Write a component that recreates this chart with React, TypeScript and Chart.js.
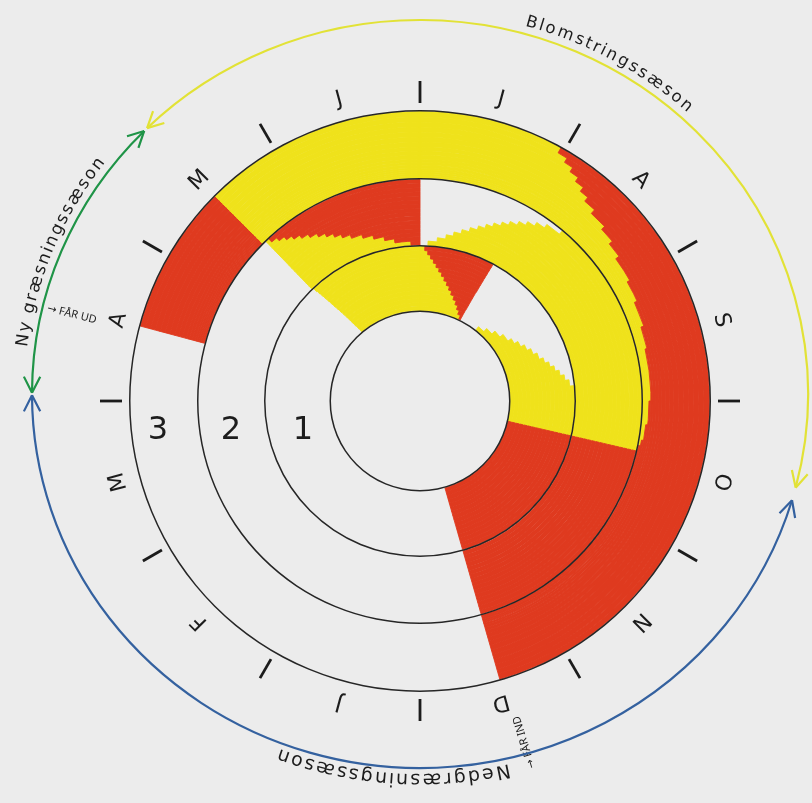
import React, { useEffect, useRef } from 'react';
import { Chart, ArcElement, DoughnutController } from 'chart.js';

Chart.register(ArcElement, DoughnutController);

// ---------- colours ----------
const RED = '#DF3A1F';
const YELLOW = '#EFE21B';
const EMPTY = 'rgba(0,0,0,0)';
const LINE = '#262626';
const INK = '#1c1c1c';

// ---------- calendar (angles in degrees, clockwise from the top = 1 July) ----------
const monthLetters = ['J', 'F', 'M', 'A', 'M', 'J', 'J', 'A', 'S', 'O', 'N', 'D'];
const januaryStartAngle = 180;
const ringNumbers = ['1', '2', '3'];

// ---------- ring 1 (innermost), sub-rings listed inner -> outer ----------
const ring1YellowEnd = [25.3, 23.5, 21.7, 19.9, 18.0, 16.1, 14.4, 12.8, 11.2, 9.7, 8.2, 6.8, 5.5, 4.2, 3.0, 1.8];
const ring1RedWedgeEnd = [26.4, 26.5, 26.6, 26.8, 26.9, 27.0, 27.1, 27.2, 27.4, 27.5, 27.6, 27.7, 27.8, 27.9, 28.0, 28.1];
const ring1LateYellowStart = [38.2, 42.6, 47.0, 51.3, 55.7, 58.7, 61.7, 64.7, 67.7, 70.7, 73.1, 75.3, 77.5, 79.7, 81.9, 84.3];
const ring1RedStart = 103;
const ring1RedEnd = 164;
const ring1YellowStart = [319.9, 319.7, 319.4, 319.2, 319.0, 318.8, 318.6, 318.4, 318.1, 317.9, 317.7, 317.5, 317.3, 317.1, 316.9, 316.6];

// ---------- ring 2, sub-rings inner -> outer ----------
const ring2YellowStart = [2.9, 6.1, 9.0, 11.4, 13.8, 16.2, 18.5, 20.6, 22.6, 24.7, 26.7, 28.9, 31.0, 33.2, 35.7, 39.9];
const ring2RedStart = 103;
const ring2RedEnd = 164;
const ring2EarlyYellowStart = 316;
const ring2EarlyRedStart = [356.7, 351.0, 347.6, 344.1, 340.7, 337.2, 334.6, 332.5, 330.4, 328.3, 326.1, 324.0, 322.1, 320.4, 318.7, 317.0];

// ---------- ring 3 (outermost), sub-rings inner -> outer ----------
const ring3RedStart = [101.5, 100, 96, 90, 77, 71.5, 65.3, 60.1, 54, 50.3, 46.6, 42.4, 39.5, 37.4, 35.3, 33.2, 31.2, 29.1];
const ring3RedEnd = 164;
const ring3EarlyRedStart = 285;
const ring3YellowStart = 315;

// ---------- seasons (arrow arcs) ----------
const seasonNames = ['Blomstringssæson', 'Ny græsningssæson', 'Nedgræsningssæson'];
const seasonStart = [315.3, 270.2, 106.5];
const seasonEnd = [464.5, 314.7, 269.8];
const seasonColors = ['#E2E236', '#1F9447', '#34619F'];
const seasonTextFirst = [16.2, 278, 168];
const seasonTextLast = [41.7, 306.5, 200];

// ---------- events ----------
const eventLabels = ['\u2192 FÅR UD', '\u2192 FÅR IND'];
const eventAngles = [284, 163];

// ---------- geometry (sub-ring thickness in px, inner -> outer) ----------
const ring1Weights = Array(16).fill(4);
const ring2Weights = Array(16).fill(65.5 / 16);
const ring3Weights = [2, 2, 2, 2, 2, 3, 3, 3, 4, 4, 4, 5, 5, 5, 5, 5, 5, 5.5];
const LINE_W = 1.5;
const INNER_R = 89;
const OUTER_R = 291;

const FONT = '"DejaVu Sans", "Noto Sans", sans-serif';
const deg = (d: number) => (d * Math.PI) / 180;

function subRing(cuts: number[], colors: string[], weight: number) {
  const bounds = [0, ...cuts, 360];
  const data = bounds.slice(1).map((b, i) => b - bounds[i]);
  return {
    data,
    backgroundColor: colors,
    borderColor: colors,
    borderWidth: 0.9,
    weight,
    order: 1,
  };
}

function lineRing() {
  return { data: [360], backgroundColor: [LINE], borderColor: [LINE], borderWidth: 0, weight: LINE_W, order: 0 };
}

function buildDatasets() {
  const r1 = ring1Weights.map((w, i) =>
    subRing(
      [ring1YellowEnd[i], ring1RedWedgeEnd[i], ring1LateYellowStart[i], ring1RedStart, ring1RedEnd, ring1YellowStart[i]],
      [YELLOW, RED, EMPTY, YELLOW, RED, EMPTY, YELLOW],
      w
    )
  );
  const r2 = ring2Weights.map((w, i) =>
    subRing(
      [ring2YellowStart[i], ring2RedStart, ring2RedEnd, ring2EarlyYellowStart, ring2EarlyRedStart[i]],
      [EMPTY, YELLOW, RED, EMPTY, YELLOW, RED],
      w
    )
  );
  const r3 = ring3Weights.map((w, i) =>
    subRing(
      [ring3RedStart[i], ring3RedEnd, ring3EarlyRedStart, ring3YellowStart],
      [YELLOW, RED, EMPTY, RED, YELLOW],
      w
    )
  );
  // Chart.js: dataset 0 is the outermost ring
  return [
    lineRing(),
    ...r3.slice().reverse(),
    lineRing(),
    ...r2.slice().reverse(),
    lineRing(),
    ...r1.slice().reverse(),
    lineRing(),
  ];
}

const decorPlugin = {
  id: 'decor',
  afterDatasetsDraw(chart: any) {
    const meta = chart.getDatasetMeta(0);
    const a0 = meta && meta.data && meta.data[0];
    if (!a0) return;
    const cx = a0.x;
    const cy = a0.y;
    const ctx = chart.ctx as CanvasRenderingContext2D;
    ctx.save();

    // month separators
    ctx.strokeStyle = INK;
    ctx.lineWidth = 2.8;
    ctx.lineCap = 'butt';
    for (let k = 0; k < 12; k++) {
      ctx.save();
      ctx.translate(cx, cy);
      ctx.rotate(deg(januaryStartAngle + 30 * k));
      ctx.beginPath();
      ctx.moveTo(0, -298);
      ctx.lineTo(0, -320);
      ctx.stroke();
      ctx.restore();
    }

    // month letters
    ctx.fillStyle = INK;
    ctx.font = '22px ' + FONT;
    ctx.textAlign = 'center';
    ctx.textBaseline = 'middle';
    monthLetters.forEach((m, k) => {
      ctx.save();
      ctx.translate(cx, cy);
      ctx.rotate(deg(januaryStartAngle + 30 * k + 15));
      ctx.fillText(m, 0, -312);
      ctx.restore();
    });

    // ring numbers
    const numberX = [117, 189, 262];
    ctx.font = '32px ' + FONT;
    ringNumbers.forEach((n, i) => {
      ctx.fillText(n, cx - numberX[i], cy + 30);
    });

    // event labels (radial)
    ctx.font = '11px "Noto Sans", "DejaVu Sans", sans-serif';
    ctx.textAlign = 'left';
    eventLabels.forEach((lab, i) => {
      ctx.save();
      ctx.translate(cx, cy);
      ctx.rotate(deg(eventAngles[i]));
      ctx.translate(0, -384);
      ctx.rotate(Math.PI / 2);
      ctx.fillText(lab, 0, 0);
      ctx.restore();
    });

    // season arrows on an ellipse
    const ex = cx;
    const ey = cy - 7;
    const rx = 388;
    const ry = 374;
    const head = (tDeg: number, dir: number) => {
      const t = deg(tDeg);
      const px = ex + rx * Math.sin(t);
      const py = ey - ry * Math.cos(t);
      let dx = rx * Math.cos(t) * dir;
      let dy = ry * Math.sin(t) * dir;
      const len = Math.hypot(dx, dy);
      dx /= len;
      dy /= len;
      const L = 18;
      const h = deg(27);
      for (const s of [-1, 1]) {
        const c = Math.cos(h * s);
        const sn = Math.sin(h * s);
        const bx = -(dx * c - dy * sn);
        const by = -(dx * sn + dy * c);
        ctx.moveTo(px + bx * L, py + by * L);
        ctx.lineTo(px, py);
      }
    };
    ctx.lineWidth = 2.2;
    ctx.lineJoin = 'miter';
    seasonStart.forEach((s, i) => {
      ctx.strokeStyle = seasonColors[i];
      ctx.beginPath();
      ctx.ellipse(ex, ey, rx, ry, 0, deg(s) - Math.PI / 2, deg(seasonEnd[i]) - Math.PI / 2, false);
      ctx.stroke();
      ctx.beginPath();
      head(s, -1);
      head(seasonEnd[i], 1);
      ctx.stroke();
    });

    // season names along the ellipse
    const arcText = (text: string, tFirst: number, tLast: number, off: number, font: string) => {
      ctx.font = font;
      ctx.fillStyle = INK;
      ctx.textAlign = 'center';
      ctx.textBaseline = 'alphabetic';
      const chars = Array.from(text);
      const w = chars.map((c) => ctx.measureText(c).width);
      const cum = [0];
      for (let i = 1; i < chars.length; i++) cum.push(cum[i - 1] + (w[i - 1] + w[i]) / 2 + 1);
      const total = cum[cum.length - 1];
      chars.forEach((c, i) => {
        const t = deg(tFirst + ((tLast - tFirst) * cum[i]) / total);
        const ax = rx + off;
        const ay = ry + off;
        const x = ex + ax * Math.sin(t);
        const y = ey - ay * Math.cos(t);
        const nx = Math.sin(t) / ax;
        const ny = -Math.cos(t) / ay;
        const rot = Math.atan2(nx, -ny);
        ctx.save();
        ctx.translate(x, y);
        ctx.rotate(rot);
        ctx.fillText(c, 0, 0);
        ctx.restore();
      });
    };
    arcText(seasonNames[0], seasonTextFirst[0], seasonTextLast[0], 8, '16.5px ' + FONT);
    arcText(seasonNames[1], seasonTextFirst[1], seasonTextLast[1], 8, '17px ' + FONT);
    arcText(seasonNames[2], seasonTextFirst[2], seasonTextLast[2], 6, '19px ' + FONT);

    ctx.restore();
  },
};

export default function App() {
  const ref = useRef<HTMLCanvasElement | null>(null);
  useEffect(() => {
    if (!ref.current) return;
    const chart = new Chart(ref.current, {
      type: 'doughnut',
      data: { datasets: buildDatasets() as any },
      options: {
        responsive: false,
        maintainAspectRatio: false,
        animation: false,
        events: [],
        radius: OUTER_R,
        cutout: (INNER_R / OUTER_R) * 100 + '%',
        rotation: 0,
        circumference: 360,
        layout: { padding: { left: 28, right: 0, top: 0, bottom: 1 } },
        plugins: { legend: { display: false }, tooltip: { enabled: false } },
      } as any,
      plugins: [decorPlugin],
    });
    return () => chart.destroy();
  }, []);
  return (
    <div
      style={{
        position: 'fixed',
        left: 0,
        top: 0,
        width: 812,
        height: 803,
        background: '#ECECEC',
        overflow: 'hidden',
      }}
    >
      <canvas ref={ref} width={812} height={803} style={{ display: 'block', width: 812, height: 803 }} />
    </div>
  );
}
